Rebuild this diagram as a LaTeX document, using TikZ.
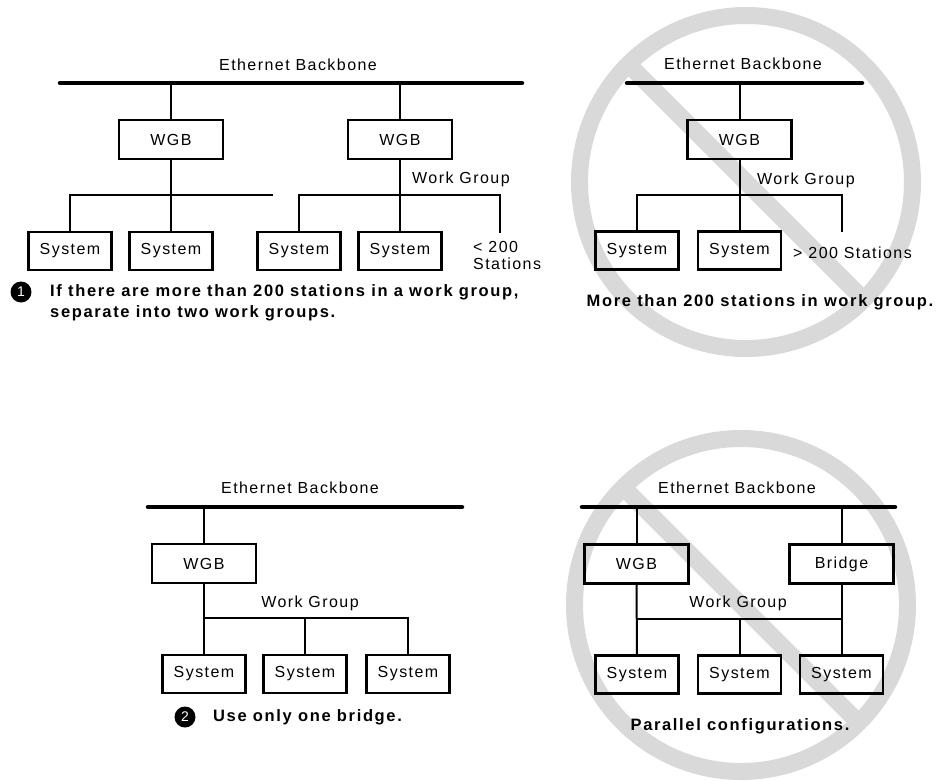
\documentclass[tikz,border=0pt]{standalone}
\usepackage{fontspec}
\setmainfont{Liberation Sans}[LetterSpace=9]
\usetikzlibrary{calc}
\definecolor{ringgray}{HTML}{D9D9D9}
\begin{document}
\begin{tikzpicture}[x=1pt,y=-1pt,
  lab/.style={font=\fontsize{16}{19}\selectfont, inner sep=0},
  boldlab/.style={font=\fontsize{16.5}{21}\selectfont\bfseries\addfontfeatures{LetterSpace=10}, inner sep=0},
  wgbbox/.style={draw, line width=2.6pt, minimum width=104pt, minimum height=39pt, inner sep=0, font=\fontsize{16}{19}\selectfont},
  sysbox/.style={draw, line width=2.6pt, minimum width=83pt, minimum height=38pt, inner sep=0, font=\fontsize{16}{19}\selectfont},
  wire/.style={line width=2pt},
  backbone/.style={line width=4.5pt, line cap=round},
  ring/.style={draw=ringgray, line width=17pt},
  slash/.style={draw=ringgray, line width=17pt},
  numdot/.style={circle, fill=black, minimum size=21pt, inner sep=0, text=white, font=\fontsize{14}{14}\selectfont}
]
\useasboundingbox (0,0) rectangle (943,780);

% ---------- no-entry signs (behind) ----------
\coordinate (c2) at (746,182);
\draw[ring] (c2) circle [radius=166.5];
\draw[slash] ($(c2)+(225:166.5)$) -- ($(c2)+(45:166.5)$);
\coordinate (c4) at (741,605);
\draw[ring] (c4) circle [radius=166.5];
\draw[slash] ($(c4)+(225:166.5)$) -- ($(c4)+(45:166.5)$);

% ---------- top-left ----------
\coordinate (bb1a) at (60,83);
\coordinate (bb1b) at (522,83);
\draw[backbone] (bb1a) -- (bb1b);
\node[lab] (eb1) at (298,65) {Ethernet Backbone};
\node[wgbbox] (wgbL) at (171,139.5) {WGB};
\node[wgbbox] (wgbR) at (400,139.5) {WGB};
\draw[wire] (wgbL.north) -- (wgbL.north |- bb1a);
\draw[wire] (wgbR.north) -- (wgbR.north |- bb1a);
\node[sysbox] (sL1) at (70,251) {System};
\node[sysbox] (sL2) at (171,251) {System};
\node[sysbox] (sR1) at (299,251) {System};
\node[sysbox] (sR2) at (400,251) {System};
\coordinate (hL) at (171,195);
\coordinate (hLend) at (273,195);
\draw[wire] (wgbL.south) -- (sL2.north);
\draw[wire] (sL1.north) |- (hLend);
\coordinate (hR) at (400,195);
\coordinate (tR) at (500,233);
\draw[wire] (wgbR.south) -- (sR2.north);
\draw[wire] (sR1.north) |- (tR |- hR) -- (tR);
\node[lab, anchor=west] (wg1) at (412,179) {Work Group};
\node[lab, anchor=west, align=left, font=\fontsize{16}{17}\selectfont] (st1) at (473,255) {< 200\\Stations};
\node[numdot] (n1) at (21,292) {1};
\node[boldlab, anchor=west, align=left] (t1) at (50,302.5) {If there are more than 200 stations in a work group,\\separate into two work groups.};

% ---------- top-right ----------
\coordinate (bb2a) at (627,83);
\coordinate (bb2b) at (862,83);
\draw[backbone] (bb2a) -- (bb2b);
\node[lab] (eb2) at (743,64) {Ethernet Backbone};
\node[wgbbox] (wgb2) at (739.5,139.5) {WGB};
\draw[wire] (wgb2.north) -- (wgb2.north |- bb2a);
\node[sysbox] (s21) at (637,250.5) {System};
\node[sysbox] (s22) at (739.5,250.5) {System};
\coordinate (h2) at (739.5,195);
\coordinate (t2) at (842,232);
\draw[wire] (wgb2.south) -- (s22.north);
\draw[wire] (s21.north) |- (t2 |- h2) -- (t2);
\node[lab, anchor=west] (wg2) at (757,180) {Work Group};
\node[lab, anchor=west] (st2) at (793,253) {> 200 Stations};
\node[boldlab] (t2txt) at (760,302) {More than 200 stations in work group.};

% ---------- bottom-left ----------
\coordinate (bb3a) at (148,507);
\coordinate (bb3b) at (462,507);
\draw[backbone] (bb3a) -- (bb3b);
\node[lab] (eb3) at (300,488) {Ethernet Backbone};
\node[wgbbox] (wgb3) at (204,563.5) {WGB};
\draw[wire] (wgb3.north) -- (wgb3.north |- bb3a);
\node[sysbox] (s31) at (204,674) {System};
\node[sysbox] (s32) at (305,674) {System};
\node[sysbox] (s33) at (408,674) {System};
\coordinate (h3) at (204,618);
\draw[wire] (wgb3.south) -- (s31.north);
\draw[wire] (h3) -| (s33.north);
\draw[wire] (s32.north) -- (s32.north |- h3);
\node[lab] (wg3) at (310,603) {Work Group};
\node[numdot] (n2) at (185,717) {2};
\node[boldlab, anchor=west] (t3) at (213,717) {Use only one bridge.};

% ---------- bottom-right ----------
\coordinate (bb4a) at (582,507);
\coordinate (bb4b) at (895,507);
\draw[backbone] (bb4a) -- (bb4b);
\node[lab] (eb4) at (737,488) {Ethernet Backbone};
\node[wgbbox] (wgb4) at (636.5,564) {WGB};
\node[wgbbox] (br4) at (841.5,564) {Bridge};
\draw[wire] (wgb4.north) -- (wgb4.north |- bb4a);
\draw[wire] (br4.north) -- (br4.north |- bb4a);
\node[sysbox] (s41) at (637,674.5) {System};
\node[sysbox] (s42) at (739.5,674.5) {System};
\node[sysbox] (s43) at (841.5,674.5) {System};
\coordinate (h4) at (637,619);
\draw[wire] (wgb4.south) -- (s41.north);
\draw[wire] (br4.south) -- (s43.north);
\draw[wire] (h4) -- (h4 -| s43.north);
\draw[wire] (s42.north) -- (s42.north |- h4);
\node[lab] (wg4) at (738,603) {Work Group};
\node[boldlab] (t4) at (740,726) {Parallel configurations.};
\end{tikzpicture}
\end{document}
